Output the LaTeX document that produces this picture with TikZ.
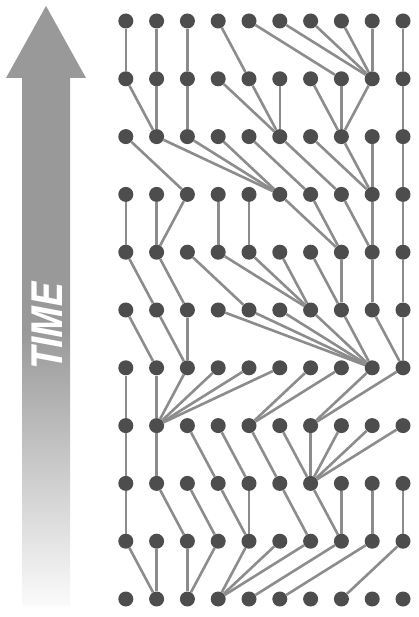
\documentclass[tikz,border=0pt]{standalone}
\usepackage{fontspec}
\newfontfamily\timefont{TeX Gyre Heros}
\definecolor{dotgray}{HTML}{4D4D4D}
\definecolor{linkgray}{HTML}{8C8C8C}
\definecolor{timegray}{HTML}{999999}
\pgfdeclareverticalshading{timefade}{100bp}{color(0bp)=(timegray!4);
  color(25bp)=(timegray!4); color(48bp)=(timegray); color(100bp)=(timegray)}
\begin{document}
\begin{tikzpicture}[x=1pt,y=-1pt,
  dot/.style={circle,fill=dotgray,inner sep=0pt,minimum size=15pt},
  link/.style={linkgray,line width=2.6pt}]
\useasboundingbox (0,0) rectangle (419,617);
% time arrow
\shade[shading=timefade]
  (46,6) -- (86,78) -- (70,78) -- (70,606) -- (22,606) -- (22,78) -- (6,78) -- cycle;
\node[white,rotate=90,inner sep=0pt,font=\timefont\bfseries\itshape\fontsize{42}{42}\selectfont]
  (time) at (47,327) {\scalebox{0.87}[1]{TIME}};
% generations
\foreach \r in {0,...,10}
  \foreach \c in {1,...,10}
    \node[dot] (d-\r-\c) at ({95+30.8*\c},{21+57.8*\r}) {};
% parents, row by row
\foreach \r/\plist in {0/{1,2,3,5,8,9,9,9,9,10},
                       1/{2,2,3,6,6,6,8,8,8,10},
                       2/{3,6,6,6,7,8,9,9,9,10},
                       3/{1,2,2,4,5,8,8,9,9,10},
                       4/{2,3,5,7,7,7,8,8,9,10},
                       5/{2,3,3,9,9,9,9,9,10,10},
                       6/{1,2,2,2,2,2,5,5,7,7},
                       7/{1,2,4,5,6,7,7,7,7,7},
                       8/{1,3,4,5,5,7,8,8,9,10},
                       9/{2,2,3,3,4,4,4,5,6,8}}{
  \pgfmathtruncatemacro\s{\r+1}
  \foreach \p [count=\c] in \plist
    \draw[link] (d-\r-\c) -- (d-\s-\p);
}
\end{tikzpicture}
\end{document}
